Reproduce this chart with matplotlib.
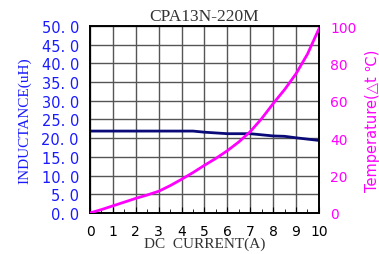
import matplotlib
matplotlib.use("Agg")
import matplotlib.pyplot as plt
import numpy as np
from matplotlib.ticker import FuncFormatter, MultipleLocator

# DC current (A)
current = [0, 1, 2, 3, 4, 4.5, 5, 6, 7, 8, 8.5, 9, 10]
# inductance (uH)
inductance = [21.9, 21.9, 21.9, 21.9, 21.9, 21.9, 21.6, 21.2, 21.2, 20.6, 20.5, 20.1, 19.4]
# temperature rise (deg C)
temp_current = [0, 0.5, 1, 1.5, 2, 2.5, 3, 3.5, 4, 4.5, 5, 5.5, 6, 6.5, 7, 7.5, 8, 8.5, 9, 9.5, 10]
temperature = [0, 1.8, 3.8, 5.8, 7.8, 9.6, 11.6, 14.6, 18.0, 21.6, 25.5, 29.2, 33.3, 38.0, 43.5, 50.5, 58.5, 66.0, 74.5, 85.0, 98.5]

blue = "#1a1aff"
navy = "#0a0a78"
magenta = "#ff00ff"

fig = plt.figure(figsize=(3.79, 2.55), dpi=100)
ax = fig.add_axes([0.2375, 0.161, 0.604, 0.733])
ax2 = ax.twinx()

# grid
ax.set_xlim(0, 10)
ax.set_ylim(0, 50)
ax.xaxis.set_major_locator(MultipleLocator(1))
ax.xaxis.set_minor_locator(MultipleLocator(0.5))
ax.yaxis.set_major_locator(MultipleLocator(5))
ax.grid(True, which="major", color="#555555", linewidth=1.0)
ax.set_axisbelow(True)

ax.plot(current, inductance, color=navy, linewidth=2.0, zorder=3)

ax2.set_ylim(0, 100)
ax2.yaxis.set_major_locator(MultipleLocator(20))
ax2.plot(temp_current, temperature, color=magenta, linewidth=2.0, zorder=4)

ax.yaxis.set_major_formatter(FuncFormatter(lambda v, p: "%d. %d" % (int(v), int(round(v * 10)) % 10)))

for a in (ax, ax2):
    for s in a.spines.values():
        s.set_color("black")
        s.set_linewidth(1.2)

ax.tick_params(axis="y", colors=blue, labelsize=10.5, length=0, pad=8)
ax.tick_params(axis="x", which="major", labelsize=10, direction="in", length=4, pad=8, labelcolor="black")
ax.tick_params(axis="x", which="minor", direction="in", length=3)
ax2.tick_params(axis="y", colors=magenta, labelsize=10, length=0, pad=8)

ax.set_title("CPA13N-220M", family="Liberation Serif", fontsize=12.5, color="#333333", pad=4)
ax.set_xlabel("DC  CURRENT(A)", family="Liberation Serif", fontsize=11, color="#333333", labelpad=-1)
ax.set_ylabel("INDUCTANCE(uH)", family="Liberation Serif", fontsize=11, color=blue, labelpad=7)
ax2.set_ylabel("Temperature(△t ℃)", family="DejaVu Sans", fontsize=10.5, color=magenta, labelpad=6)

fig.savefig("out.png", dpi=100)
